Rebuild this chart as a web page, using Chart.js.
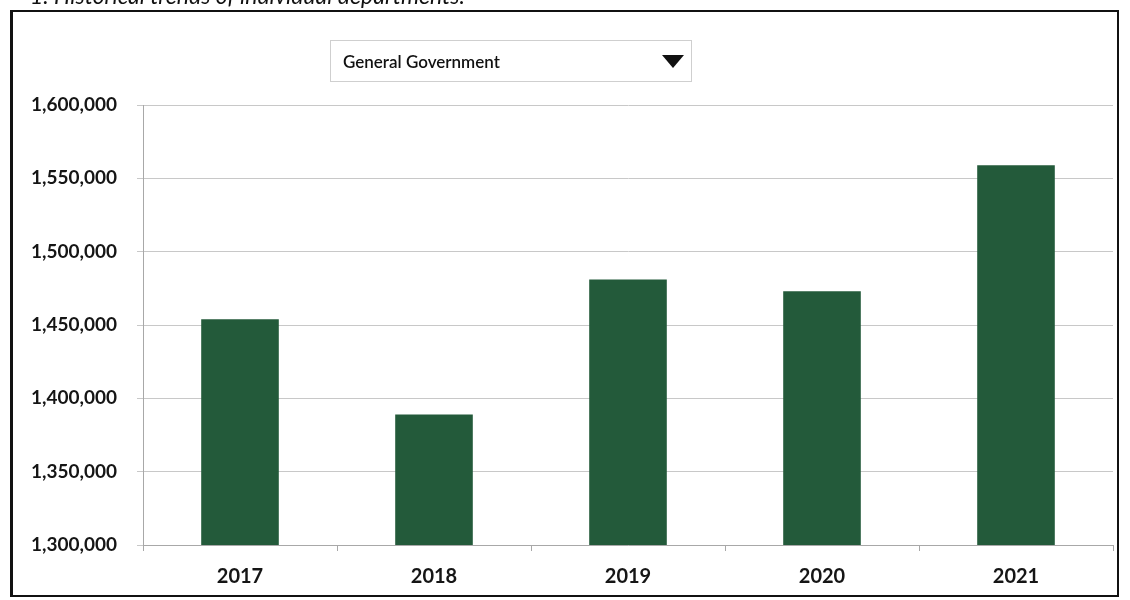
<!DOCTYPE html>
<html>
<head>
<meta charset="utf-8">
<script src="https://cdn.jsdelivr.net/npm/chart.js@4/dist/chart.umd.min.js"></script>
<style>
  html, body { margin: 0; padding: 0; background: #fff; }
  #wrap { position: relative; width: 1130px; height: 600px; overflow: hidden; background: #fff; }
  #chart { position: absolute; left: 0; top: 0; }
  #heading {
    position: absolute; left: 30px; top: -19px;
    font-family: Lato, "Liberation Sans", sans-serif; font-style: italic;
    font-size: 23px; color: #111; white-space: nowrap;
  }
  #frame {
    position: absolute; left: 10px; top: 10px; width: 1109px; height: 587px;
    border-left: 3px solid #111; border-top: 2px solid #111;
    border-right: 2px solid #111; border-bottom: 2px solid #111;
    box-sizing: border-box; pointer-events: none;
  }
  #picker {
    position: absolute; left: 330px; top: 40px; width: 362px; height: 42px;
    border: 1px solid #cfcfcf; box-sizing: border-box; background: #fff;
    font-family: Lato, "Liberation Sans", sans-serif; font-size: 17px; font-weight: 600; color: #111;
  }
  #picker span { position: absolute; left: 12px; top: 10px; white-space: nowrap; }
  #picker i {
    position: absolute; left: 331px; top: 14px; width: 0; height: 0;
    border-left: 11px solid transparent; border-right: 11px solid transparent;
    border-top: 13px solid #111;
  }
</style>
</head>
<body>
<div id="wrap">
  <canvas id="chart" width="1130" height="600"></canvas>
  <div id="heading">1. Historical trends of individual departments.</div>
  <div id="frame"></div>
  <div id="picker"><span>General Government</span><i></i></div>
</div>
<script>
// Department spending by fiscal year
const years = ['2017', '2018', '2019', '2020', '2021'];
const spending = [1454000, 1389000, 1481000, 1473000, 1559000];
const axisMin = 1300000;
const axisMax = 1600000;
const axisStep = 50000;

new Chart(document.getElementById('chart'), {
  type: 'bar',
  data: {
    labels: years,
    datasets: [{
      label: 'General Government',
      data: spending,
      backgroundColor: '#235a3a',
      borderWidth: 0,
      categoryPercentage: 1.0,
      barPercentage: 0.40
    }]
  },
  options: {
    responsive: false,
    animation: false,
    layout: { padding: { top: 105, right: 17, left: 0, bottom: 0 } },
    plugins: { legend: { display: false }, tooltip: { enabled: false } },
    scales: {
      x: {
        afterFit: s => { s.height = 55; },
        grid: { drawOnChartArea: false, drawTicks: true, tickLength: 6, color: '#a8a8a8', offset: true },
        border: { color: '#a8a8a8' },
        ticks: {
          padding: 14,
          color: '#151515',
          font: { family: 'Lato', size: 20, weight: 'bold' }
        }
      },
      y: {
        min: axisMin,
        max: axisMax,
        afterFit: s => { s.width = 143; },
        grid: { color: '#c8c8c8', tickLength: 6 },
        border: { color: '#a8a8a8' },
        ticks: {
          stepSize: axisStep,
          padding: 20,
          color: '#151515',
          font: { family: 'Lato', size: 19, weight: 'bold' },
          callback: v => v.toLocaleString('en-US')
        }
      }
    }
  }
});
</script>
</body>
</html>
